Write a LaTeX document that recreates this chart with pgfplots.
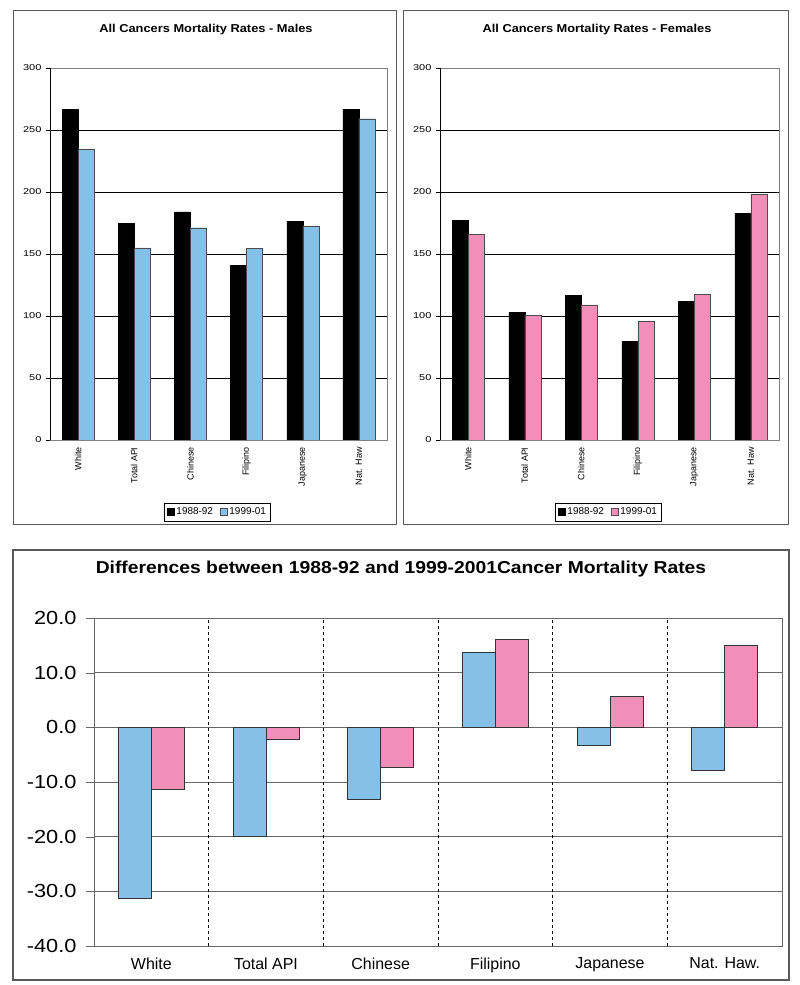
\documentclass[border=0pt]{standalone}
\usepackage{fontspec}
\setmainfont{Liberation Sans}
\usepackage{graphicx}
\usepackage{pgfplots}
\pgfplotsset{compat=1.18}
\definecolor{skyb}{RGB}{132,192,232}
\definecolor{pinkb}{RGB}{240,143,184}
\definecolor{frameg}{RGB}{90,90,90}
\pgfplotsset{
  topchart/.style={
    scale only axis, width=337bp, height=372bp,
    xmin=-0.5, xmax=5.5, ymin=0, ymax=300,
    ytick={0,50,...,300},
    ymajorgrids, major grid style={black, line width=0.5bp},
    xtick={0,...,5},
    xticklabels={White,Total API,Chinese,Filipino,Japanese,Nat. Haw},
    x tick label style={rotate=90, anchor=east, font=\fontsize{9}{10}\selectfont},
    y tick label style={font=\fontsize{8.5}{9}\selectfont, xshift=-1bp},
    yticklabel={\scalebox{1.3}[1]{\pgfmathprintnumber{\tick}}},
    /pgf/number format/assume math mode=true,
    major x tick style={draw=none},
    extra x ticks={-0.5,0.5,...,5.5}, extra x tick labels={},
    extra x tick style={major tick length=4bp, tick style={black}},
    tick align=outside, major tick length=4bp, tick pos=left,
    ytick style={black},
    axis line style={gray, line width=0.6bp},
    ybar=0pt, bar width=16bp,
    legend columns=2,
    legend style={at={(0.497,-0.194)}, anchor=center, draw=black, line width=0.5bp,
      font=\fontsize{10}{11}\selectfont, inner sep=2.5bp,
      /tikz/every even column/.append style={column sep=5bp}},
    legend image code/.code={\draw[##1] (0bp,-3.5bp) rectangle (7bp,3.5bp);},
  }
}
\begin{document}
\begin{tikzpicture}
\useasboundingbox (0,0) rectangle (800bp,985bp);
% frames
\draw[frameg, line width=0.8bp] (13bp,985bp-10bp) rectangle (396bp,985bp-524bp);
\draw[frameg, line width=0.8bp] (403bp,985bp-10bp) rectangle (788bp,985bp-524bp);
\draw[frameg, line width=1.2bp] (13bp,985bp-550bp) rectangle (789bp,985bp-980bp);
% titles
\node[font=\bfseries\fontsize{11.5}{13}\selectfont] at (206bp,955bp) {\scalebox{1.12}[1]{All Cancers Mortality Rates - Males}};
\node[font=\bfseries\fontsize{11.5}{13}\selectfont] at (597bp,955bp) {\scalebox{1.12}[1]{All Cancers Mortality Rates - Females}};
\node[font=\bfseries\fontsize{17.3}{19}\selectfont] at (401bp,416bp) {\scalebox{1.12}[1]{Differences between 1988-92 and 1999-2001Cancer Mortality Rates}};

\begin{axis}[topchart, at={(50bp,545bp)}, anchor=south west]
\addplot[fill=black, draw=black] coordinates {(0,266.7) (1,174.7) (2,183.9) (3,140.6) (4,176.3) (5,266.7)};
\addplot[fill=skyb, draw=black!70, line width=0.4bp] coordinates {(0,234.7) (1,155.0) (2,171.2) (3,154.3) (4,172.6) (5,259.1)};
\legend{1988-92,1999-01}
\draw[black, line width=0.8bp] (axis cs:-0.5,300) -- (axis cs:-0.5,0) -- (axis cs:5.5,0);
\end{axis}

\begin{axis}[topchart, at={(440bp,545bp)}, anchor=south west, width=339bp]
\addplot[fill=black, draw=black] coordinates {(0,177.4) (1,102.7) (2,116.9) (3,79.8) (4,111.8) (5,182.8)};
\addplot[fill=pinkb, draw=black!70, line width=0.4bp] coordinates {(0,166.1) (1,100.8) (2,108.9) (3,95.7) (4,117.7) (5,198.1)};
\legend{1988-92,1999-01}
\draw[black, line width=0.8bp] (axis cs:-0.5,300) -- (axis cs:-0.5,0) -- (axis cs:5.5,0);
\end{axis}

\begin{axis}[scale only axis, width=688bp, height=328bp, at={(94bp,39bp)}, anchor=south west,
  xmin=-0.5, xmax=5.5, ymin=-40, ymax=20, ytick={-40,-30,...,20},
  /pgf/number format/assume math mode=true,
  yticklabel={\scalebox{1.15}[1]{\pgfmathprintnumber[fixed,fixed zerofill,precision=1]{\tick}}},
  y tick label style={font=\fontsize{19}{21}\selectfont, xshift=-6bp},
  x tick label style={font=\fontsize{16}{18}\selectfont},
  xtick={0,...,5}, xticklabels={White,Total API,Chinese,Filipino,Japanese,Nat. Haw.},
  major x tick style={draw=none},
  ymajorgrids, major grid style={gray!80!black, line width=0.6bp},
  extra x ticks={0.5,1.5,...,4.5}, extra x tick labels={},
  extra x tick style={grid=major, major grid style={black, dashed, line width=0.6bp}, major tick length=0pt},
  tick align=outside, major tick length=8bp, tick pos=left, ytick style={gray!80!black},
  axis line style={gray!80!black, line width=0.7bp},
  ybar=0pt, bar width=33bp]
\addplot[fill=skyb, draw=black!80, line width=0.5bp] coordinates {(0,-31.3) (1,-19.9) (2,-13.2) (3,13.7) (4,-3.2) (5,-7.9)};
\addplot[fill=pinkb, draw=black!80, line width=0.5bp] coordinates {(0,-11.3) (1,-2.1) (2,-7.3) (3,16.1) (4,5.6) (5,15.0)};
\end{axis}
\end{tikzpicture}
\end{document}
